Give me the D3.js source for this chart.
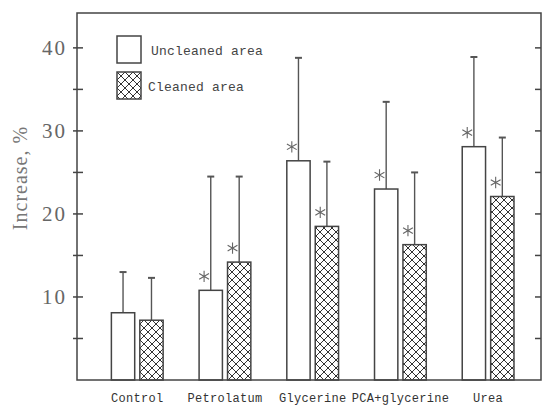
<!DOCTYPE html>
<html>
<head>
<meta charset="utf-8">
<script src="https://cdn.jsdelivr.net/npm/d3@7"></script>
<style>
  body { margin: 0; background: #fff; }
</style>
</head>
<body>
<div id="chart"></div>
<script>
// Data
var categories = ["Control", "Petrolatum", "Glycerine", "PCA+glycerine", "Urea"];
var seriesNames = ["Uncleaned area", "Cleaned area"];
var uncleaned = [8.1, 10.8, 26.4, 23.0, 28.1];
var cleaned = [7.2, 14.2, 18.5, 16.3, 22.1];
var uncleanedSD = [4.9, 13.7, 12.4, 10.5, 10.8];
var cleanedSD = [5.1, 10.3, 7.8, 8.7, 7.1];
var uncleanedSig = [false, true, true, true, true];
var cleanedSig = [false, true, true, true, true];
var majorTicks = [10, 20, 30, 40];
var minorTicks = [5, 15, 25, 35];

var w = 544, h = 406;
var plotLeft = 77, plotRight = 541, plotTop = 13, plotBottom = 380;
var ink = "#444";

var svg = d3.select("#chart").append("svg")
  .attr("width", w)
  .attr("height", h);

// cross-hatch pattern for the cleaned bars
var defs = svg.append("defs");
var pat = defs.append("pattern")
  .attr("id", "hatch")
  .attr("patternUnits", "userSpaceOnUse")
  .attr("width", 8)
  .attr("height", 8);
pat.append("rect").attr("width", 8).attr("height", 8).attr("fill", "#fff");
pat.append("path")
  .attr("d", "M0,0L8,8M8,0L0,8M-1,7L1,9M7,-1L9,1M7,9L9,7M-1,1L1,-1")
  .attr("stroke", "#333")
  .attr("stroke-width", 1);

var y = d3.scaleLinear().domain([0, 44.2]).range([plotBottom, plotTop]);

var x0 = d3.scaleBand()
  .domain(categories)
  .range([plotLeft, plotRight])
  .paddingInner(0.41)
  .paddingOuter(0.35)
  .align(0.56);

var x1 = d3.scaleBand()
  .domain(seriesNames)
  .range([0, x0.bandwidth()])
  .paddingInner(0.18);

// rows for each bar
var rows = [];
categories.forEach(function (c, i) {
  rows.push({ cat: c, s: seriesNames[0], v: uncleaned[i], sd: uncleanedSD[i], sig: uncleanedSig[i] });
  rows.push({ cat: c, s: seriesNames[1], v: cleaned[i], sd: cleanedSD[i], sig: cleanedSig[i] });
});

var fillFor = function (s) { return s === seriesNames[0] ? "#fff" : "url(#hatch)"; };

// error bars (upper half only, drawn before bars)
var err = svg.append("g").attr("stroke", "#555").attr("stroke-width", 1.4);
err.selectAll("line.v")
  .data(rows)
  .enter().append("line")
  .attr("x1", d => x0(d.cat) + x1(d.s) + x1.bandwidth() / 2)
  .attr("x2", d => x0(d.cat) + x1(d.s) + x1.bandwidth() / 2)
  .attr("y1", d => y(d.v))
  .attr("y2", d => y(d.v + d.sd));
err.selectAll("line.cap")
  .data(rows)
  .enter().append("line")
  .attr("x1", d => x0(d.cat) + x1(d.s) + x1.bandwidth() / 2 - 3.5)
  .attr("x2", d => x0(d.cat) + x1(d.s) + x1.bandwidth() / 2 + 3.5)
  .attr("y1", d => y(d.v + d.sd))
  .attr("y2", d => y(d.v + d.sd))
  .attr("stroke-width", 2);

// bars
svg.append("g").selectAll("rect")
  .data(rows)
  .enter().append("rect")
  .attr("x", d => x0(d.cat) + x1(d.s))
  .attr("y", d => y(d.v))
  .attr("width", x1.bandwidth())
  .attr("height", d => y(0) - y(d.v))
  .attr("fill", d => fillFor(d.s))
  .attr("stroke", ink)
  .attr("stroke-width", 1.5);

// significance asterisks
var star = d3.symbol().type(d3.symbolAsterisk || d3.symbolCross).size(90);
svg.append("g").selectAll("path")
  .data(rows.filter(d => d.sig))
  .enter().append("path")
  .attr("d", star)
  .attr("transform", d => "translate(" + (x0(d.cat) + x1(d.s) + 5) + "," + (y(d.v) - 14) + ")")
  .attr("fill", "none")
  .attr("stroke", "#666")
  .attr("stroke-width", 1.1);

// frame
svg.append("rect")
  .attr("x", plotLeft).attr("y", plotTop)
  .attr("width", plotRight - plotLeft).attr("height", plotBottom - plotTop)
  .attr("fill", "none")
  .attr("stroke", ink)
  .attr("stroke-width", 1.5);

// left ticks crossing the axis
var allTicks = majorTicks.concat(minorTicks);
svg.append("g").selectAll("line")
  .data(allTicks)
  .enter().append("line")
  .attr("x1", plotLeft - 4).attr("x2", plotLeft + 6)
  .attr("y1", d => y(d)).attr("y2", d => y(d))
  .attr("stroke", ink).attr("stroke-width", 1.5);

// right ticks, inward
svg.append("g").selectAll("line")
  .data(allTicks)
  .enter().append("line")
  .attr("x1", plotRight - 6).attr("x2", plotRight)
  .attr("y1", d => y(d)).attr("y2", d => y(d))
  .attr("stroke", ink).attr("stroke-width", 1.5);

// tick labels
svg.append("g").selectAll("text")
  .data(majorTicks)
  .enter().append("text")
  .attr("x", plotLeft - 10)
  .attr("y", d => y(d))
  .attr("dy", "0.35em")
  .attr("text-anchor", "end")
  .attr("font-family", "Liberation Serif, serif")
  .attr("font-size", 21)
  .attr("letter-spacing", 2)
  .attr("fill", "#666")
  .text(d => d);

// y title
svg.append("text")
  .attr("transform", "translate(27,178) rotate(-90)")
  .attr("text-anchor", "middle")
  .attr("font-family", "Liberation Serif, serif")
  .attr("font-size", 20)
  .attr("letter-spacing", 1)
  .attr("fill", "#777")
  .text("Increase, %");

// category labels
svg.append("g").selectAll("text")
  .data(categories)
  .enter().append("text")
  .attr("x", d => x0(d) + x0.bandwidth() / 2)
  .attr("y", 402)
  .attr("text-anchor", "middle")
  .attr("font-family", "Liberation Mono, monospace")
  .attr("font-size", 12)
  .attr("letter-spacing", 0.3)
  .attr("fill", "#333")
  .text(d => d);

// legend
var legend = svg.append("g").selectAll("g")
  .data(seriesNames)
  .enter().append("g")
  .attr("transform", (d, i) => "translate(117," + (36 + i * 36) + ")");
legend.append("rect")
  .attr("width", 24).attr("height", 27)
  .attr("fill", d => fillFor(d))
  .attr("stroke", ink).attr("stroke-width", 1.5);
legend.append("text")
  .attr("x", (d, i) => i === 0 ? 34 : 31)
  .attr("y", 19)
  .attr("font-family", "Liberation Mono, monospace")
  .attr("font-size", 13)
  .attr("letter-spacing", 0.2)
  .attr("fill", "#444")
  .text(d => d);
</script>
</body>
</html>
